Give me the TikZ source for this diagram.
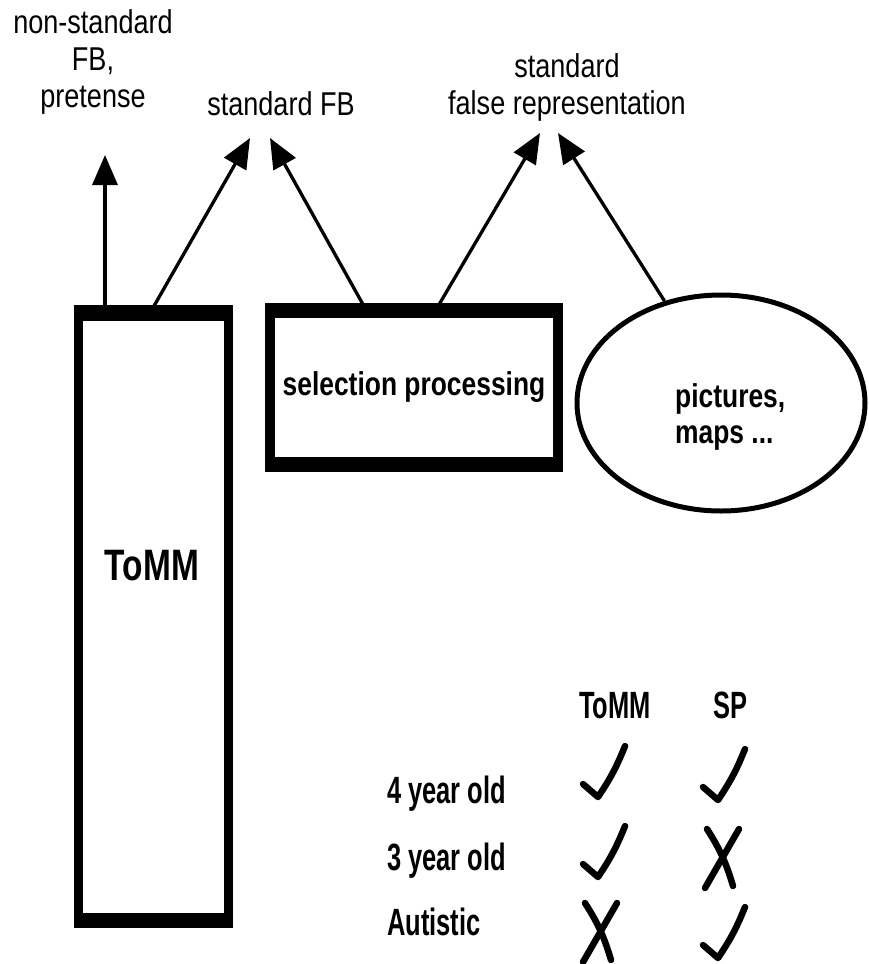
\documentclass[tikz,border=0pt]{standalone}
\usepackage{fontspec}
\setmainfont{Liberation Sans}
\newfontfamily\lblfont[FakeStretch=0.82]{Liberation Sans}
\newfontfamily\boxfont[FakeStretch=0.8]{Liberation Sans}
\newfontfamily\tabfont[FakeStretch=0.67]{Liberation Sans}
\usetikzlibrary{arrows.meta,shapes.geometric}

\tikzset{
  tickline/.style={line width=6.5pt, line cap=round, line join=round},
  tickmark/.pic={\draw[tickline] (-15,-13) -- (0,0) to[bend right=6] (27,-51);},
  crossmark/.pic={\draw[tickline] (-14,-29) to[bend left=8] (12,28);
                  \draw[tickline] (18,-29) -- (-16,30);}
}

\begin{document}
\begin{tikzpicture}[x=1pt, y=-1pt,
    thickbox/.style={draw, line width=10pt, rectangle, inner sep=0pt, outer sep=0pt},
    uparrow/.style={line width=3.3pt, -{Triangle[length=30pt,width=25pt]}},
    toplabel/.style={align=center, inner sep=0pt, font=\lblfont\fontsize{33}{37}\selectfont},
    boldlabel/.style={inner sep=0pt, font=\boxfont\bfseries\fontsize{33}{36}\selectfont},
    tablabel/.style={inner sep=0pt, font=\tabfont\bfseries\fontsize{38}{40}\selectfont}]
    % Page size
    \useasboundingbox (0,0) rectangle (869,964);

    % Boxes
    \node[thickbox, line width=9pt, minimum width=150, minimum height=614] (tomm) at (153.5,616.5) {};
    \fill ([shift={(-4.5,-4.5)}]tomm.north west) rectangle ([shift={(4.5,11.5)}]tomm.north east);
    \fill ([shift={(-4.5,-10.5)}]tomm.south west) rectangle ([shift={(4.5,4.5)}]tomm.south east);
    \node[font=\boxfont\bfseries\fontsize{44}{48}\selectfont, inner sep=0pt, xscale=0.95] (tommtext) at (152,566) {ToMM};

    \node[thickbox, minimum width=288, minimum height=159, boldlabel] (selproc) at (414,387.5) {selection processing};
    \fill ([shift={(-5,-5)}]selproc.north west) rectangle ([shift={(5,10)}]selproc.north east);
    \fill ([shift={(-5,-10)}]selproc.south west) rectangle ([shift={(5,5)}]selproc.south east);

    \node[ellipse, draw, line width=5pt, minimum width=288, minimum height=216, inner sep=0pt] (pics) at (721,403) {};
    \node[boldlabel, align=left, anchor=west] (pictext) at (675,417) {pictures,\\maps ...};

    % Labels on top
    \node[toplabel] (nsfb) at (93,61.5) {non-standard\\FB,\\pretense};
    \node[toplabel, anchor=base] (sfb) at (281,115) {standard FB};
    \node[toplabel] (sfr) at (567,87.5) {standard\\false representation};

    \coordinate (nsfbtip) at (105,155);
    \coordinate (sfbtipa) at (250,138);
    \coordinate (sfbtipb) at (270,138);
    \coordinate (sfrtipa) at (540,133);
    \coordinate (sfrtipb) at (558,133);

    % Arrows
    \draw[uparrow] ([xshift=26.5pt]tomm.north west) -- (nsfbtip);
    \draw[uparrow] ([xshift=73.5pt]tomm.north west) -- (sfbtipa);
    \draw[uparrow] ([xshift=95pt]selproc.north west) -- (sfbtipb);
    \draw[uparrow] ([xshift=167pt]selproc.north west) -- (sfrtipa);
    \draw[uparrow] (pics.119) -- (sfrtipb);

    % Table
    \node[tablabel, anchor=base] (hdtomm) at (615,718) {ToMM};
    \node[tablabel, anchor=base] (hdsp) at (730,718) {SP};
    \node[tablabel, anchor=base west] (rowfour) at (387,803) {4 year old};
    \node[tablabel, anchor=base west] (rowthree) at (387,870) {3 year old};
    \node[tablabel, anchor=base west] (rowaut) at (387,935) {Autistic};

    \pic at (598,797) {tickmark};
    \pic at (718,800) {tickmark};
    \pic at (598,877) {tickmark};
    \pic at (721,858) {crossmark};
    \pic at (599,932) {crossmark};
    \pic at (718,958) {tickmark};
\end{tikzpicture}
\end{document}
